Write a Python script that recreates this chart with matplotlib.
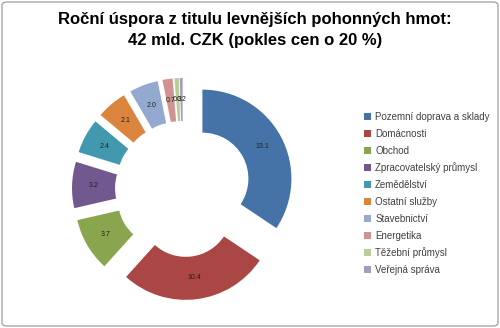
import matplotlib
matplotlib.use("Agg")
import matplotlib.pyplot as plt
from matplotlib.patches import FancyBboxPatch, Patch

categories = ["Pozemní doprava a sklady", "Domácnosti", "Obchod",
              "Zpracovatelský průmysl", "Zemědělství", "Ostatní služby",
              "Stavebnictví", "Energetika", "Těžební průmysl", "Veřejná správa"]
values = [13.1, 10.4, 3.7, 3.2, 2.4, 2.1, 2.0, 0.7, 0.3, 0.2]
colors = ["#4572A7", "#AA4643", "#89A54E", "#71588F", "#4198AF",
          "#DB843D", "#93A9CF", "#D19392", "#B9CD96", "#A99BBD"]
title = "Roční úspora z titulu levnějších pohonných hmot:\n42 mld. CZK (pokles cen o 20 %)"

plt.rcParams['font.family'] = ['Liberation Sans', 'DejaVu Sans']

W, H = 500, 328
fig = plt.figure(figsize=(W / 100, H / 100), dpi=100)
ax = fig.add_axes([0, 0, 1, 1])

R = 89.0
ring = 43.0
total = sum(values)
wedges, texts, autotexts = ax.pie(
    values, colors=colors, startangle=90, counterclock=False,
    radius=R, center=(183, H - 189), explode=[22] * len(values),
    wedgeprops=dict(width=ring, linewidth=0),
    autopct=lambda p: f"{p * total / 100:.1f}", pctdistance=(R - ring / 2) / R,
    textprops=dict(fontsize=5, color="#222222"))
ax.set_xlim(0, W)
ax.set_ylim(0, H)
ax.set_aspect('equal')
ax.axis('off')

fig.text(0.51, 1 - 30 / H, title, ha='center', va='center', fontsize=12,
         fontweight='bold', linespacing=1.5, color="#000000")

handles = [Patch(facecolor=c, edgecolor='none') for c in colors]
fig.legend(handles, categories, loc='upper left', bbox_to_anchor=(364 / W, 1 - 112 / H),
           frameon=False, fontsize=7, handlelength=0.75, handleheight=0.75,
           handletextpad=0.4, labelspacing=0.7, borderpad=0, borderaxespad=0,
           labelcolor="#404040")

border = FancyBboxPatch((2 / W, 2 / H), 1 - 4 / W, 1 - 4 / H,
                        boxstyle="round,pad=0,rounding_size=0.01",
                        transform=fig.transFigure, facecolor='none',
                        edgecolor="#A6A6A6", linewidth=1)
fig.patches.append(border)

fig.savefig("out.png", dpi=100, facecolor="white")
